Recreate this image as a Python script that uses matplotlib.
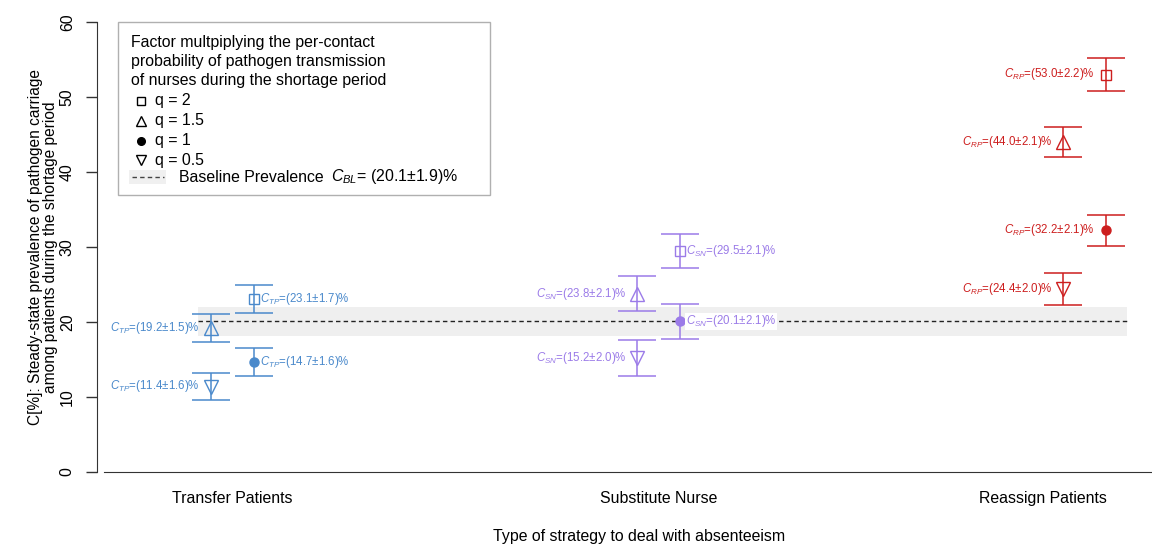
import matplotlib
matplotlib.use("Agg")
import matplotlib.pyplot as plt
from matplotlib.lines import Line2D
from matplotlib.patches import Rectangle

plt.rcParams['font.family'] = ['Liberation Sans', 'DejaVu Sans']
plt.rcParams['mathtext.fontset'] = 'custom'
plt.rcParams['mathtext.it'] = 'Liberation Sans:italic'
plt.rcParams['mathtext.rm'] = 'Liberation Sans'

# ---------------- data ----------------
categories = ['Transfer Patients', 'Substitute Nurse', 'Reassign Patients']
cat_codes = ['TP', 'SN', 'RP']
q_levels = ['2', '1.5', '1', '0.5']

tp_mean = [23.1, 19.2, 14.7, 11.4]
tp_sd = [1.7, 1.5, 1.6, 1.6]
tp_bar = [1.9, 1.85, 1.85, 1.85]

sn_mean = [29.5, 23.8, 20.1, 15.2]
sn_sd = [2.1, 2.1, 2.1, 2.0]
sn_bar = [2.3, 2.3, 2.3, 2.35]

rp_mean = [53.0, 44.0, 32.2, 24.4]
rp_sd = [2.2, 2.1, 2.1, 2.0]
rp_bar = [2.15, 2.05, 2.05, 2.1]

baseline_mean = 20.1
baseline_sd = 1.9

y_ticks = [0, 10, 20, 30, 40, 50, 60]

# ---------------- style ----------------
W, H = 1152, 547
colors = ['#4A89CB', '#9B7BE8', '#CD1E1E']
markers = ['s', '^', 'o', 'v']
msizes = [7.5, 9.5, 6.5, 9.5]
fills = [False, False, True, False]
q_offsets = [0.05, -0.05, 0.05, -0.05]
cat_pos = [1, 2, 3]
tick_pos = [1, 2, 2.902]
label_side = [['r', 'l', 'r', 'l'], ['r', 'l', 'r', 'l'], ['l', 'l', 'l', 'l']]

def px2x(px):
    return 1 + (px - 232.5) / 426.0

def fx(px):
    return px / W

def fy(py):
    return 1 - py / H

fig = plt.figure(figsize=(11.52, 5.47), dpi=100)
ax = fig.add_axes([fx(97), 75 / H, 1 - fx(97), 450 / H])
ax.set_xlim(px2x(97), px2x(1152))
ax.set_ylim(0, 60)

# baseline band and dashed line
bx0, bx1 = px2x(198), px2x(1127)
ax.add_patch(Rectangle((bx0, baseline_mean - baseline_sd), bx1 - bx0, 2 * baseline_sd,
                       facecolor='#efefef', edgecolor='none', zorder=0))
ax.plot([bx0, bx1], [baseline_mean, baseline_mean], color='#222222', lw=1.0,
        linestyle=(0, (3.2, 2.3)), zorder=1)

means = [tp_mean, sn_mean, rp_mean]
sds = [tp_sd, sn_sd, rp_sd]
bars = [tp_bar, sn_bar, rp_bar]

for ci in range(3):
    col = colors[ci]
    for qi in range(4):
        x = cat_pos[ci] + q_offsets[qi]
        y = means[ci][qi]
        ax.errorbar([x], [y], yerr=[bars[ci][qi]], fmt='none', ecolor=col,
                    elinewidth=1.1, capsize=14, capthick=1.1, zorder=3)
        ax.plot([x], [y], marker=markers[qi], ms=msizes[qi], mec=col,
                mfc=col if fills[qi] else 'none', mew=1.0, ls='none', zorder=4)
        txt = r'$C_{%s}$=(%.1f±%.1f)%%' % (cat_codes[ci], y, sds[ci][qi])
        side = label_side[ci][qi]
        if side == 'r':
            kw = dict(xytext=(6, 0), ha='left')
        else:
            kw = dict(xytext=(-11, 0), ha='right')
        bbox = None
        if ci == 1 and qi == 2:
            bbox = dict(facecolor='white', edgecolor='none', pad=0.5)
        ax.annotate(txt, (x, y), textcoords='offset pixels', va='center',
                    fontsize=8.3, color=col, bbox=bbox, zorder=5, **kw)

# axes styling
for s in ['top', 'right']:
    ax.spines[s].set_visible(False)
ax.spines['left'].set_bounds(0, 60)
ax.spines['left'].set_color('#333333')
ax.spines['bottom'].set_bounds(px2x(104), px2x(1152))
ax.spines['bottom'].set_color('#333333')
ax.set_yticks(y_ticks)
ax.set_yticklabels([str(v) for v in y_ticks], rotation=90, va='center', fontsize=11.4)
ax.tick_params(axis='y', length=8, width=1, color='#333333', pad=8)
ax.set_xticks(tick_pos)
ax.set_xticklabels(categories, fontsize=11.4)
ax.tick_params(axis='x', length=0, pad=14)

fig.text(fx(639), fy(537), 'Type of strategy to deal with absenteeism',
         ha='center', va='center', fontsize=11.4)
fig.text(fx(43), fy(247),
         'C[%]: Steady-state prevalence of pathogen carriage\namong patients during the shortage period',
         rotation=90, ha='center', va='center', multialignment='center',
         fontsize=11.2, linespacing=0.95)

# ---------------- legend (manual) ----------------
fig.add_artist(Rectangle((fx(118), fy(195)), fx(490) - fx(118), (195 - 22) / H,
                         transform=fig.transFigure, facecolor='white',
                         edgecolor='#b0b0b0', lw=1.0, zorder=6))
title_lines = ['Factor multpiplying the per-contact',
               'probability of pathogen transmission',
               'of nurses during the shortage period']
for i, (t, py) in enumerate(zip(title_lines, [42, 62, 81])):
    fig.text(fx(131), fy(py), t, ha='left', va='center', fontsize=11.4, zorder=7)

leg_y = [101, 121, 141, 160]
leg_ms = [6, 7, 5.5, 7]
for qi in range(4):
    fig.add_artist(Line2D([fx(141)], [fy(leg_y[qi])], transform=fig.transFigure,
                          marker=markers[qi], ms=leg_ms[qi], mec='black',
                          mfc='black' if fills[qi] else 'none', mew=1.0, ls='none',
                          zorder=7))
    fig.text(fx(155), fy(leg_y[qi]), 'q = ' + q_levels[qi], ha='left', va='center',
             fontsize=11.4, zorder=7)

fig.add_artist(Rectangle((fx(129), fy(184)), fx(166) - fx(129), 14 / H,
                         transform=fig.transFigure, facecolor='#f0f0f0',
                         edgecolor='none', zorder=7))
fig.add_artist(Line2D([fx(132), fx(164)], [fy(177), fy(177)], transform=fig.transFigure,
                      color='#444444', lw=1.0, linestyle=(0, (3.2, 2.3)), zorder=8))
fig.text(fx(179), fy(177), 'Baseline Prevalence', ha='left', va='center',
         fontsize=11.4, zorder=8)
fig.text(fx(331), fy(177), r'$C_{BL}$= (%.1f±%.1f)%%' % (baseline_mean, baseline_sd),
         ha='left', va='center', fontsize=11.4, zorder=8)

fig.savefig('out.png', dpi=100)
